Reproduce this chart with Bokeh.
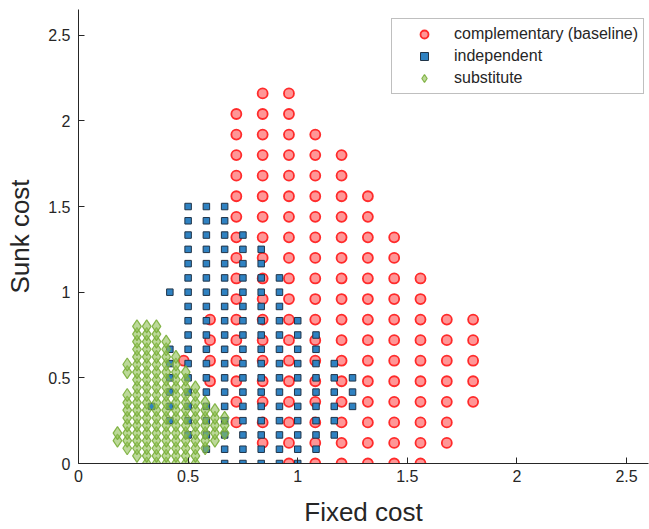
import numpy as np
from bokeh.plotting import figure
from bokeh.models import Range1d, Legend, LegendItem, ColumnDataSource
from bokeh.embed import file_html
from bokeh.resources import INLINE

# ---------------- data ----------------
# complementary (baseline): grid step 0.12, one entry per column segment
red_step = 0.12
red_col = [4, 5, 6, 7, 8, 9, 10, 11, 12, 13, 14, 15]
red_lo = [5, 4, 2, 1, 0, 0, 0, 0, 0, 0, 1, 3]
red_hi = [5, 7, 17, 18, 18, 16, 15, 13, 11, 9, 7, 7]

# independent: grid step 1/12
blue_step = 1.0 / 12.0
blue_col = [4, 5, 5, 6, 7, 8, 9, 10, 11, 12, 13, 14, 15]
blue_lo = [4, 3, 12, 2, 1, 0, 0, 0, 0, 0, 1, 2, 4]
blue_hi = [4, 8, 12, 18, 18, 18, 16, 15, 13, 10, 9, 7, 6]

# substitute: grid step 0.8/18
green_step = 0.8 / 18.0
green_col = [4, 5, 5, 6, 7, 8, 9, 10, 11, 12, 13, 14, 15]
green_lo = [3, 2, 12, 1, 0, 0, 0, 0, 0, 0, 2, 3, 4]
green_hi = [4, 9, 13, 18, 18, 18, 16, 14, 12, 10, 8, 7, 6]

labels = ["complementary (baseline)", "independent", "substitute"]
x_ticks = [0, 0.5, 1, 1.5, 2, 2.5]
y_ticks = [0, 0.5, 1, 1.5, 2, 2.5]
tick_text = ["0", "0.5", "1", "1.5", "2", "2.5"]


def expand(step, cols, los, his):
    xs, ys = [], []
    for c, lo, hi in zip(cols, los, his):
        for r in range(lo, hi + 1):
            xs.append(c * step)
            ys.append(r * step)
    return ColumnDataSource(dict(x=xs, y=ys))


src_red = expand(red_step, red_col, red_lo, red_hi)
src_blue = expand(blue_step, blue_col, blue_lo, blue_hi)
src_green = expand(green_step, green_col, green_lo, green_hi)

FONT = "Liberation Sans"
TXT = "#262626"

p = figure(width=649, height=529, output_backend="svg", toolbar_location=None,
           x_range=Range1d(0, 2.6), y_range=Range1d(0, 2.65),
           min_border_left=78, min_border_right=1, min_border_top=9, min_border_bottom=65)
p.outline_line_color = None
p.grid.visible = False
p.background_fill_color = "white"
p.border_fill_color = "white"

r_red = p.scatter("x", "y", source=src_red, marker="circle", size=10,
                  fill_color="#ff5050", fill_alpha=0.6,
                  line_color="#ff2222", line_alpha=0.95, line_width=1.8)
r_blue = p.scatter("x", "y", source=src_blue, marker="square", size=6.5,
                   fill_color="#2f82c2", fill_alpha=1.0,
                   line_color="#203448", line_width=1.0)
r_green = p.scatter("x", "y", source=src_green, marker="diamond", size=13,
                    fill_color="#8fbf55", fill_alpha=0.6,
                    line_color="#7aae3a", line_alpha=0.9, line_width=1.2)

for ax, ticks in ((p.xaxis, x_ticks), (p.yaxis, y_ticks)):
    ax.ticker = ticks
    ax.major_label_overrides = {t: s for t, s in zip(ticks, tick_text)}
    ax.major_tick_in = 6
    ax.major_tick_out = 0
    ax.minor_tick_line_color = None
    ax.axis_line_color = TXT
    ax.major_tick_line_color = TXT
    ax.major_label_text_color = TXT
    ax.major_label_text_font = FONT
    ax.major_label_text_font_size = "16px"
    ax.axis_label_text_font = FONT
    ax.axis_label_text_font_size = "26px"
    ax.axis_label_text_font_style = "normal"
    ax.axis_label_text_color = TXT

p.xaxis.axis_label = "Fixed cost"
p.yaxis.axis_label = "Sunk cost"
p.xaxis.major_label_standoff = 6
p.xaxis.axis_label_standoff = 12
p.yaxis.major_label_standoff = 8
p.yaxis.axis_label_standoff = 10

legend = Legend(items=[LegendItem(label=labels[0], renderers=[r_red]),
                       LegendItem(label=labels[1], renderers=[r_blue]),
                       LegendItem(label=labels[2], renderers=[r_green])],
                location=(313, 369), orientation="vertical")
legend.padding = 5
legend.margin = 0
legend.glyph_width = 54
legend.glyph_height = 20
legend.spacing = 2
legend.label_standoff = 3
legend.label_width = 180
legend.label_text_font = FONT
legend.label_text_font_size = "16px"
legend.label_text_color = TXT
legend.border_line_color = "#7f7f7f"
legend.border_line_width = 1
legend.background_fill_color = "white"
legend.background_fill_alpha = 1.0
p.add_layout(legend, "center")

open("out.html", "w").write(file_html(p, INLINE))
